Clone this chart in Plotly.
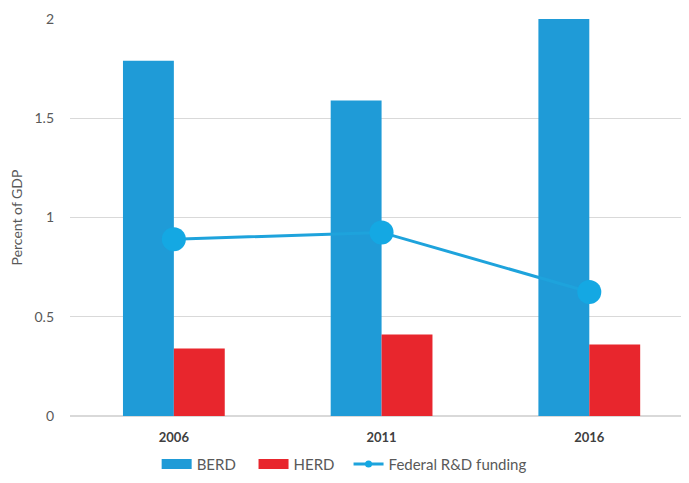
import plotly.graph_objects as go

years = ["2006", "2011", "2016"]
berd = [1.79, 1.59, 2.0]
herd = [0.34, 0.41, 0.36]
federal = [0.89, 0.925, 0.625]

BLUE = "#1f9bd7"
RED = "#e8262d"
LINE = "#1ea3dc"

fig = go.Figure()
fig.add_trace(go.Bar(x=years, y=berd, name="BERD", marker=dict(color=BLUE, line=dict(width=0)),
                     showlegend=False))
fig.add_trace(go.Bar(x=years, y=herd, name="HERD", marker=dict(color=RED, line=dict(width=0)),
                     showlegend=False))
fig.add_trace(go.Scatter(x=years, y=federal, name="Federal R&D funding", mode="lines+markers",
                         line=dict(color=LINE, width=3),
                         marker=dict(size=24, color="#14a8e3"), showlegend=False))
# legend entries
fig.add_trace(go.Scatter(x=[None], y=[None], name="BERD", mode="lines",
                         line=dict(color=BLUE, width=10), legend="legend"))
fig.add_trace(go.Scatter(x=[None], y=[None], name="HERD", mode="lines",
                         line=dict(color=RED, width=10), legend="legend2"))
fig.add_trace(go.Scatter(x=[None], y=[None], name="Federal R&D funding", mode="lines+markers",
                         line=dict(color=LINE, width=3), marker=dict(size=7, color="#14a8e3"),
                         legend="legend3"))

leg_common = dict(orientation="h", xanchor="left", y=-0.08, yanchor="top",
                  font=dict(size=15, color="#595959"), itemwidth=30, bgcolor="rgba(0,0,0,0)")

fig.update_layout(
    width=689, height=483,
    margin=dict(l=62, r=8, t=11, b=75, autoexpand=False),
    paper_bgcolor="white", plot_bgcolor="white",
    font=dict(family="Lato", color="#595959", size=13),
    barmode="group", bargap=0.51, bargroupgap=0,
    showlegend=True,
    legend=dict(x=0.14, **leg_common),
    legend2=dict(x=0.2965, **leg_common),
    legend3=dict(x=0.450, **leg_common),
)
fig.update_xaxes(range=[-0.5, 2.48], showgrid=False, showline=False, ticks="", automargin=False,
                 ticklabelstandoff=12,
                 tickfont=dict(size=13, color="#404040", family="Lato", weight="bold"))
fig.update_yaxes(range=[0, 2], dtick=0.5, showgrid=True, gridcolor="#d9d9d9", gridwidth=1,
                 zeroline=True, zerolinecolor="#d9d9d9", showline=False, ticks="", automargin=False,
                 ticklabelstandoff=15,
                 tickfont=dict(size=14, color="#595959"),
                 title=dict(text="Percent of GDP", font=dict(size=14, color="#595959"), standoff=11))
fig.write_html("out.html")
